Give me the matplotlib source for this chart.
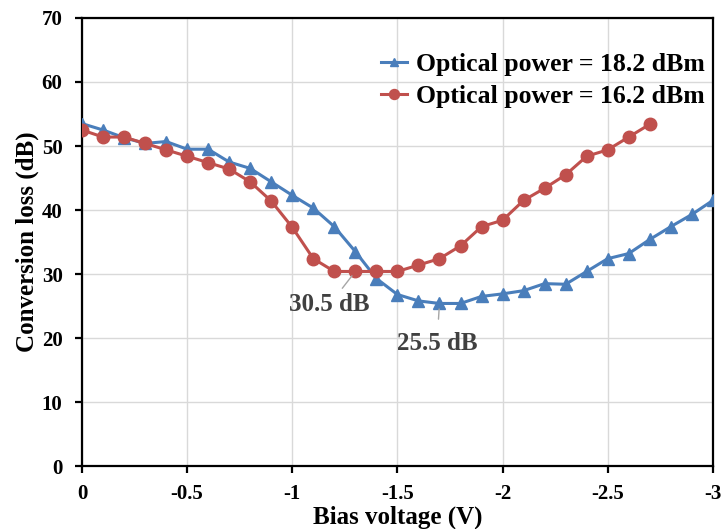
import numpy as np
import matplotlib.pyplot as plt

plt.rcParams['font.family'] = ['Liberation Serif', 'DejaVu Serif']
plt.rcParams['font.weight'] = 'bold'

bias_v = [0, -0.1, -0.2, -0.3, -0.4, -0.5, -0.6, -0.7, -0.8, -0.9, -1.0,
          -1.1, -1.2, -1.3, -1.4, -1.5, -1.6, -1.7, -1.8, -1.9, -2.0,
          -2.1, -2.2, -2.3, -2.4, -2.5, -2.6, -2.7, -2.8, -2.9, -3.0]
loss_182 = [53.5, 52.5, 51.3, 50.4, 50.7, 49.5, 49.5, 47.5, 46.5, 44.4, 42.3,
            40.3, 37.4, 33.5, 29.3, 26.8, 25.8, 25.4, 25.4, 26.5, 26.9,
            27.4, 28.5, 28.4, 30.4, 32.4, 33.2, 35.4, 37.4, 39.3, 41.5]
bias_v_162 = bias_v[:28]
loss_162 = [52.5, 51.4, 51.4, 50.4, 49.4, 48.4, 47.4, 46.4, 44.4, 41.4, 37.3,
            32.4, 30.4, 30.4, 30.4, 30.4, 31.4, 32.4, 34.4, 37.4, 38.4,
            41.5, 43.4, 45.5, 48.4, 49.4, 51.4, 53.4]

blue = '#4A7EBB'
red = '#C0504D'

fig = plt.figure(figsize=(7.21, 5.29), dpi=100)
ax = fig.add_axes([0.1137, 0.119, 0.875, 0.847])

ax.plot(bias_v, loss_182, color=blue, lw=2.2, marker='^', ms=8,
        label='Optical power = 18.2 dBm', zorder=3)
ax.plot(bias_v_162, loss_162, color=red, lw=2.2, marker='o', ms=9,
        label='Optical power = 16.2 dBm', zorder=3)

ax.set_xlim(0, -3)
ax.set_ylim(0, 70)
ax.set_xticks([0, -0.5, -1, -1.5, -2, -2.5, -3])
ax.set_xticklabels(['0', '-0.5', '-1', '-1.5', '-2', '-2.5', '-3'])
ax.set_yticks(range(0, 71, 10))
ax.grid(color='#D9D9D9', lw=1)
ax.set_axisbelow(True)
for s in ax.spines.values():
    s.set_linewidth(1.6)
ax.tick_params(axis='both', direction='out', length=5, width=1.6,
               labelsize=15)
ax.tick_params(axis='x', pad=8)
ax.tick_params(axis='y', pad=9)

ax.set_xlabel('Bias voltage (V)', fontsize=18, fontweight='bold', labelpad=1)
ax.set_ylabel('Conversion loss (dB)', fontsize=18, fontweight='bold', labelpad=2)

# minimum markers
ax.annotate('30.5 dB', xy=(-1.3, 30.4), xytext=(-1.177, 25.2),
            fontsize=18, fontweight='bold', color='#404040',
            ha='center', va='center',
            arrowprops=dict(arrowstyle='-', color='#A6A6A6', lw=1,
                            shrinkA=2, shrinkB=4))
ax.annotate('25.5 dB', xy=(-1.7, 25.4), xytext=(-1.688, 19.2),
            fontsize=18, fontweight='bold', color='#404040',
            ha='center', va='center',
            arrowprops=dict(arrowstyle='-', color='#A6A6A6', lw=1,
                            shrinkA=7, shrinkB=4))

ax.legend(loc='upper right', bbox_to_anchor=(1.003, 0.944), frameon=False,
          fontsize=18.5, handlelength=1.0, handletextpad=0.35,
          labelspacing=0.35, borderaxespad=0, markerscale=0.8)

fig.savefig('out.png', dpi=100)
